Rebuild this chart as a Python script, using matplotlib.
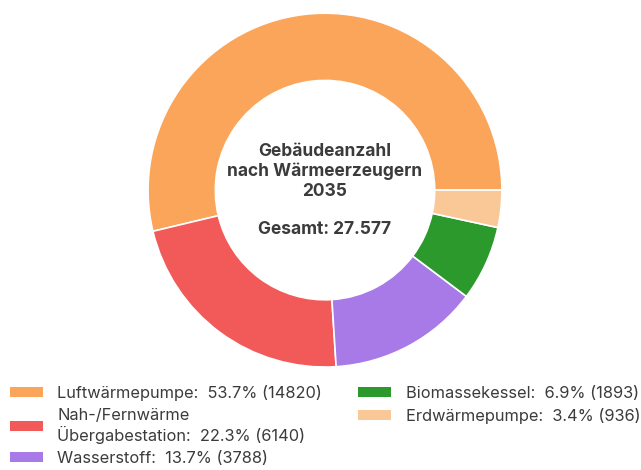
import matplotlib.pyplot as plt
from matplotlib.patches import Patch

plt.rcParams['font.family'] = ['Inter', 'DejaVu Sans']

labels = ['Luftwärmepumpe', 'Nah-/Fernwärme\nÜbergabestation', 'Wasserstoff',
          'Biomassekessel', 'Erdwärmepumpe']
counts = [14820, 6140, 3788, 1893, 936]
colors = ['#fba55a', '#f25a59', '#a87ae8', '#2b992b', '#fac896']
total = sum(counts)

fig = plt.figure(figsize=(6.41, 4.70), dpi=100)
ax = fig.add_axes([0.231, 0.219, 0.552, 0.753])

ax.pie(counts, colors=colors, startangle=0, counterclock=True, radius=1,
       wedgeprops=dict(width=0.38, edgecolor='white', linewidth=1.2))
ax.set_xlim(-1, 1)
ax.set_ylim(-1, 1)
ax.set_aspect('equal')

txt = '#3b3b3b'
ax.text(0, 0.105, 'Gebäudeanzahl\nnach Wärmeerzeugern\n2035', ha='center', va='center',
        fontsize=12.5, fontweight='bold', color=txt, linespacing=1.18)
ax.text(0, -0.22, f'Gesamt: {total:,}'.replace(',', '.'), ha='center', va='center',
        fontsize=12.5, fontweight='bold', color=txt)

handles = [Patch(facecolor=c, edgecolor='none') for c in colors]
leg_labels = [f'{l}:  {n / total * 100:.1f}% ({n})' for l, n in zip(labels, counts)]
fig.legend(handles, leg_labels, ncol=2, loc='upper left', bbox_to_anchor=(0.005, 0.195),
           frameon=False, fontsize=11.8, handlelength=2.0, handleheight=0.6,
           handletextpad=0.9, columnspacing=2.2, labelspacing=0.42,
           labelcolor=txt, borderaxespad=0)

fig.savefig('out.png', dpi=100, facecolor='white')
